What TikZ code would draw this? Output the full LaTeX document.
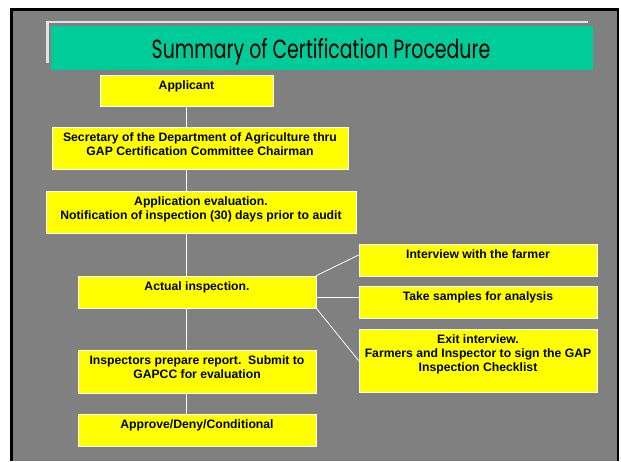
\documentclass[tikz,border=0pt]{standalone}
\usepackage{fontspec}
\setmainfont{Liberation Sans}
\newfontfamily\titlefont{Poppins}
\definecolor{slide}{RGB}{128,128,128}
\definecolor{banner}{RGB}{0,204,153}
\definecolor{stepfill}{RGB}{255,255,0}
\definecolor{rim}{RGB}{226,226,226}
\pgfdeclarelayer{bg}
\pgfsetlayers{bg,main}
\tikzset{
  stepbox/.style={draw=white, line width=0.8pt, fill=stepfill, inner sep=0pt},
  steptext/.style={anchor=north, yshift=-6pt, inner sep=0pt, align=center,
    font=\fontsize{12.2}{14}\selectfont\bfseries},
  link/.style={draw=white, line width=0.8pt}
}

\begin{document}
\begin{tikzpicture}[x=1pt, y=-1pt]
\useasboundingbox (0,0) rectangle (621,461);
\begin{pgfonlayer}{bg}
\fill[black] (10,8) rectangle (619,461);
\fill[slide] (13,11) rectangle (617,461);
\draw[rim, line width=2.6pt] (47.5,63) -- (47.5,22) -- (588,22);
\fill[banner] (51,26) rectangle (593,70);
\end{pgfonlayer}
\node[anchor=base, inner sep=0pt, font=\titlefont\fontsize{21}{24}\selectfont] (title) at (321,58.6) {\scalebox{0.9}[1.25]{Summary of Certification Procedure}};

% left column
\node[stepbox, minimum width=173, minimum height=31, label={[steptext]north:Applicant}] (applicant) at (186.5,90.5) {};
\node[stepbox, minimum width=296, minimum height=42, label={[steptext]north:{Secretary of the Department of Agriculture thru\\GAP Certification Committee Chairman}}] (secretary) at (200,148) {};
\node[stepbox, minimum width=310, minimum height=42, label={[steptext]north:{Application evaluation.\\Notification of inspection (30) days prior to audit}}] (evaluation) at (201,212) {};
\node[stepbox, minimum width=238, minimum height=32, label={[steptext]north:Actual inspection.}] (actual) at (197,292) {};
\node[stepbox, minimum width=238, minimum height=43, label={[steptext]north:{Inspectors prepare report.\ \ Submit to\\GAPCC for evaluation}}] (report) at (197,371.5) {};
\node[stepbox, minimum width=238, minimum height=32, label={[steptext]north:Approve/Deny/Conditional}] (approve) at (197,430) {};

% right column
\node[stepbox, minimum width=238, minimum height=32, label={[steptext]north:Interview with the farmer}] (interview) at (478,260) {};
\node[stepbox, minimum width=238, minimum height=32, label={[steptext]north:Take samples for analysis}] (samples) at (478,302) {};
\node[stepbox, minimum width=238, minimum height=63, label={[steptext]north:{Exit interview.\\Farmers and Inspector to sign the GAP\\Inspection Checklist}}] (exit) at (478,360.5) {};

\begin{pgfonlayer}{bg}
\draw[link] (applicant.south) -- (applicant.south |- approve.north);
\end{pgfonlayer}
\draw[link] (actual.north east) -- ([yshift=5pt]interview.west);
\draw[link] ([yshift=-5pt]actual.east) -- ([yshift=-5pt]actual.east -| samples.west);
\draw[link] (actual.south east) -- (exit.west);
\end{tikzpicture}
\end{document}
